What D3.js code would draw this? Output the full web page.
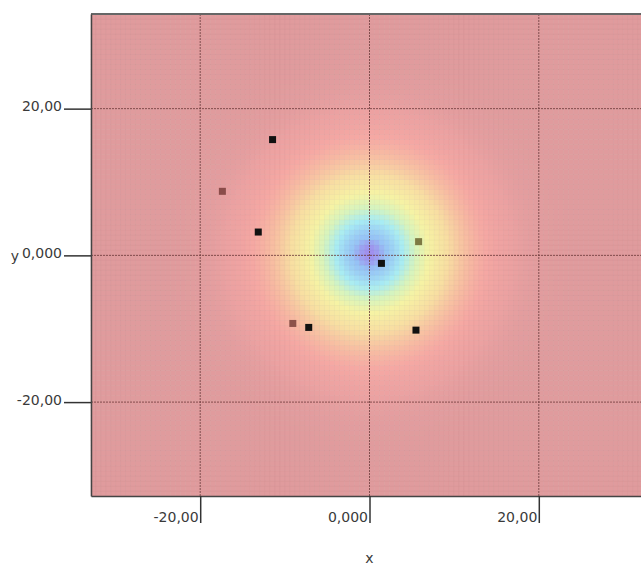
<!DOCTYPE html>
<html>
<head>
<meta charset="utf-8">
<script src="https://cdn.jsdelivr.net/npm/d3@7"></script>
<style>
  body { margin: 0; background: #fff; }
  text { font-family: "DejaVu Sans", Verdana, sans-serif; fill: #3a3a3a; }
</style>
</head>
<body>
<div class="canvas"></div>
<script>
// axis ticks
var tickValues = [-20, 0, 20];
var xTickLabels = ["-20,00", "0,000", "20,00"];
var yTickLabels = ["-20,00", "0,000", "20,00"];

// scatter points
var pointX = [-11.45, -17.38, -13.14, 5.80, 1.41, -9.06, -7.18, 5.49];
var pointY = [15.78, 8.73, 3.18, 1.87, -1.09, -9.28, -9.82, -10.19];
var pointColor = ["#111", "#8a4c4a", "#111", "#7d7a44", "#111", "#8c524a", "#111", "#111"];

// surface: gaussian bump under the points
var fieldCenter = [0, 0.3];
var fieldSigma = [6.4, 7.4];
var nCols = 112;
var nRows = 96;

// colour ramp for the surface
var rampStops = [0, 0.03, 0.1, 0.22, 0.35, 0.55, 0.7, 0.83, 0.96, 1];
var rampColors = ["#e09b9d", "#eca1a1", "#f6a8a3", "#f8c2a2", "#f8dea2", "#f6f3a4", "#d6f4be", "#a8ecf4", "#96c2f6", "#a08fee"];

var width = 641;
var height = 567;

var xScale = d3.scaleLinear().domain([-32.9, 32.9]).range([91, 648]);
var yScale = d3.scaleLinear().domain([-32.8, 32.9]).range([496, 14]);
var color = d3.scaleLinear().domain(rampStops).range(rampColors).interpolate(d3.interpolateRgb);

var svg = d3.select(".canvas")
  .append("svg")
  .attr("width", width)
  .attr("height", height);

/* heat cells */
var xd = xScale.domain(), yd = yScale.domain();
var cw = (xd[1] - xd[0]) / nCols;
var ch = (yd[1] - yd[0]) / nRows;
var cells = [];
for (var r = 0; r < nRows; r++) {
  for (var c = 0; c < nCols; c++) {
    var cx = xd[0] + (c + 0.5) * cw;
    var cy = yd[0] + (r + 0.5) * ch;
    var dx = (cx - fieldCenter[0]) / fieldSigma[0];
    var dy = (cy - fieldCenter[1]) / fieldSigma[1];
    cells.push({ x: cx, y: cy, v: Math.exp(-(dx * dx + dy * dy) / 2) });
  }
}
var pw = Math.abs(xScale(cw) - xScale(0));
var ph = Math.abs(yScale(ch) - yScale(0));

svg.append("g")
  .attr("class", "heat")
  .selectAll("rect")
  .data(cells)
  .enter()
  .append("rect")
  .attr("x", (d) => xScale(d.x) - pw / 2)
  .attr("y", (d) => yScale(d.y) - ph / 2)
  .attr("width", pw)
  .attr("height", ph)
  .attr("fill", (d) => color(d.v))
  .attr("stroke", (d) => d3.color(color(d.v)).darker(0.15))
  .attr("stroke-width", 0.4);

/* grid lines */
var grid = svg.append("g").attr("class", "grid");
grid.selectAll(".vx")
  .data(tickValues)
  .enter()
  .append("line")
  .attr("x1", (d) => xScale(d))
  .attr("x2", (d) => xScale(d))
  .attr("y1", yScale.range()[1])
  .attr("y2", yScale.range()[0])
  .attr("stroke", "#6b3a3a")
  .attr("stroke-opacity", 0.8)
  .attr("stroke-dasharray", "2,1");
grid.selectAll(".hy")
  .data(tickValues)
  .enter()
  .append("line")
  .attr("x1", xScale.range()[0])
  .attr("x2", xScale.range()[1])
  .attr("y1", (d) => yScale(d))
  .attr("y2", (d) => yScale(d))
  .attr("stroke", "#6b3a3a")
  .attr("stroke-opacity", 0.8)
  .attr("stroke-dasharray", "2,1");

/* frame */
svg.append("line")
  .attr("x1", 91).attr("x2", width)
  .attr("y1", 14).attr("y2", 14)
  .attr("stroke", "#666").attr("stroke-width", 2);

/* points */
svg.append("g")
  .attr("class", "points")
  .selectAll("rect")
  .data(pointX.map((px, i) => ({ x: px, y: pointY[i], c: pointColor[i] })))
  .enter()
  .append("rect")
  .attr("x", (d) => xScale(d.x) - 3.5)
  .attr("y", (d) => yScale(d.y) - 3.5)
  .attr("width", 7)
  .attr("height", 7)
  .attr("fill", (d) => d.c);

/* axes */
var xAxis = d3.axisBottom(xScale)
  .tickValues(tickValues)
  .tickSizeInner(27)
  .tickSizeOuter(0)
  .tickFormat((d, i) => xTickLabels[i]);
var gx = svg.append("g")
  .attr("class", "x axis")
  .attr("transform", `translate(0, ${yScale.range()[0]})`)
  .call(xAxis);
gx.select(".domain").attr("stroke", "#444").attr("stroke-width", 1.5);
gx.selectAll(".tick line").attr("stroke", "#333").attr("stroke-width", 1.5);
gx.selectAll(".tick text")
  .attr("text-anchor", "end")
  .attr("x", -2)
  .attr("y", 26)
  .attr("dy", 0)
  .style("font-size", "14px")
  .style("fill", "#3a3a3a");

var yAxis = d3.axisLeft(yScale)
  .tickValues(tickValues)
  .tickSizeInner(27)
  .tickSizeOuter(0)
  .tickFormat((d, i) => yTickLabels[i]);
var gy = svg.append("g")
  .attr("class", "y axis")
  .attr("transform", `translate(${xScale.range()[0]}, 0)`)
  .call(yAxis);
gy.select(".domain").attr("stroke", "#444").attr("stroke-width", 1.5);
gy.selectAll(".tick line").attr("stroke", "#333").attr("stroke-width", 1.5);
gy.selectAll(".tick text")
  .attr("text-anchor", "end")
  .attr("x", -29)
  .attr("dy", 2)
  .style("font-size", "14px")
  .style("fill", "#3a3a3a");

/* axis titles */
svg.append("text")
  .attr("x", xScale(0))
  .attr("y", 563)
  .attr("text-anchor", "middle")
  .style("font-size", "14px")
  .text("x");
svg.append("text")
  .attr("x", 15)
  .attr("y", 261)
  .attr("text-anchor", "middle")
  .style("font-size", "14px")
  .text("y");
</script>
</body>
</html>
